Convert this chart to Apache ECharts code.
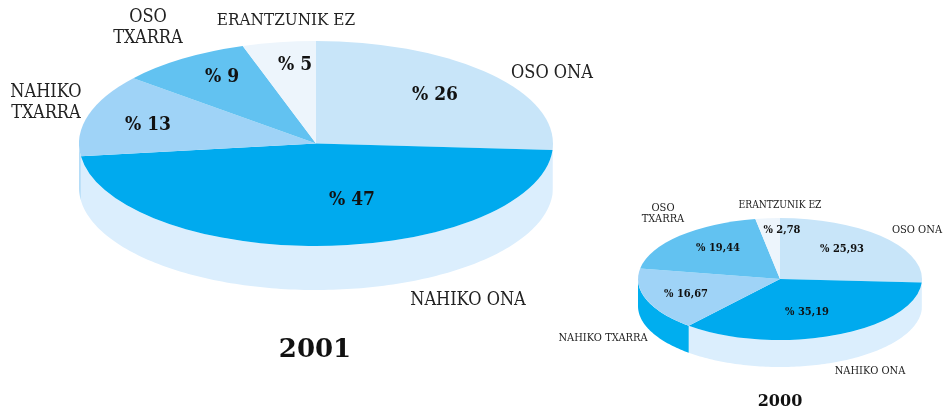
<!DOCTYPE html>
<html><head><meta charset="utf-8">
<style>html,body{margin:0;padding:0;background:#fff}#c{width:943px;height:408px}</style>
<script src="https://cdn.jsdelivr.net/npm/echarts@6/dist/echarts.min.js"></script>
</head><body><div id="c"></div>
<script>
const categories = ['OSO ONA','NAHIKO ONA','NAHIKO TXARRA','OSO TXARRA','ERANTZUNIK EZ'];
const values2001 = [26,47,13,9,5];
const values2000 = [25.93,35.19,16.67,19.44,2.78];
const years = ['2001','2000'];
const labelLines2001 = ['OSO ONA','NAHIKO ONA','NAHIKO\nTXARRA','OSO\nTXARRA','ERANTZUNIK EZ'];
const labelLines2000 = ['OSO ONA','NAHIKO ONA','NAHIKO TXARRA','OSO\nTXARRA','ERANTZUNIK EZ'];

const topColors = ['#C8E5F9','#00AAEE','#9FD3F7','#62C2F1','#EDF5FC'];
const wallColors2001 = ['#DBEEFD','#DBEEFD','#B5DDF8','#62C2F1','#EDF5FC'];
const wallColors2000 = ['#DBEEFD','#DBEEFD','#00AEEF','#62C2F1','#EDF5FC'];
const SERIF = '"DejaVu Serif"';

const layouts = [
 {values:values2001, lines:labelLines2001, walls:wallColors2001, cx:316, cy:143.5, rx:237, ry:102.5, depth:44,
  pctFont:19, catFonts:[18,18,18,18,17], catHeight:20.5,
  pctAt:[[435,95],[352,200],[148,125],[222,77],[295,65]],
  catAt:[[552,73],[468,300],[46,103],[148,28],[286,21]]},
 {values:values2000, lines:labelLines2000, walls:wallColors2000, cx:780, cy:279, rx:142, ry:61, depth:27,
  pctFont:11, catFonts:[11,11,11,11,10.2], catHeight:11,
  pctAt:[[842,249],[807,312],[686,294],[718,248],[782,230]],
  catAt:[[917,230],[870,371],[603,338],[663,214],[780,205]]}
];

function makeRender(L){
  const total = L.values.reduce((a,b)=>a+b,0);
  const TAU = Math.PI*2;
  return function(params, api){
    const i = params.dataIndex;
    const v = api.value(0);
    let before = 0;
    for(let k=0;k<i;k++) before += L.values[k];
    const a0 = before/total*TAU, a1 = (before+v)/total*TAU; // clockwise from 12 o'clock
    const children = [];
    const w0 = Math.max(a0, Math.PI/2), w1 = Math.min(a1, Math.PI*1.5);
    if(w1 > w0){
      const up=[], down=[], n=Math.max(2,Math.ceil((w1-w0)/0.02));
      for(let s=0;s<=n;s++){
        const t=w0+(w1-w0)*s/n;
        const x=L.cx+L.rx*Math.sin(t), y=L.cy-L.ry*Math.cos(t);
        up.push([x,y]); down.unshift([x,y+L.depth]);
      }
      children.push({type:'polygon',z2:1,shape:{points:up.concat(down)},style:{fill:L.walls[i]}});
    }
    children.push({type:'group',x:L.cx,y:L.cy,scaleY:L.ry/L.rx,children:[{
      type:'sector',z2:2,
      shape:{cx:0,cy:0,r0:0,r:L.rx,startAngle:a0-Math.PI/2,endAngle:a1-Math.PI/2,clockwise:true},
      style:{fill:topColors[i]}
    }]});
    children.push({type:'text',z2:5,x:L.pctAt[i][0],y:L.pctAt[i][1],style:{
      text:'% '+String(v).replace('.',','),font:'condensed bold '+L.pctFont+'px '+SERIF,fill:'#111',align:'center',verticalAlign:'middle'}});
    children.push({type:'text',z2:5,x:L.catAt[i][0],y:L.catAt[i][1],style:{
      text:L.lines[i],font:'condensed '+L.catFonts[i]+'px '+SERIF,lineHeight:L.catHeight,fill:'#222',align:'center',verticalAlign:'middle'}});
    return {type:'group',children};
  };
}

const chart = echarts.init(document.getElementById('c'),null,{renderer:'canvas'});
chart.setOption({
  animation:false,
  backgroundColor:'#fff',
  title:[
    {text:years[0],left:315,top:350,padding:0,textAlign:'center',textVerticalAlign:'middle',textStyle:{fontFamily:SERIF,fontWeight:'bold',fontSize:26,color:'#111'}},
    {text:years[1],left:780,top:402,padding:0,textAlign:'center',textVerticalAlign:'middle',textStyle:{fontFamily:SERIF,fontWeight:'bold',fontSize:16,color:'#111'}}
  ],
  series:layouts.map((L,idx)=>({
    type:'custom',name:years[idx],coordinateSystem:'none',silent:true,
    renderItem:makeRender(L),
    data:L.values.map((v,i)=>({name:categories[i],value:[v]}))
  }))
});
</script></body></html>
